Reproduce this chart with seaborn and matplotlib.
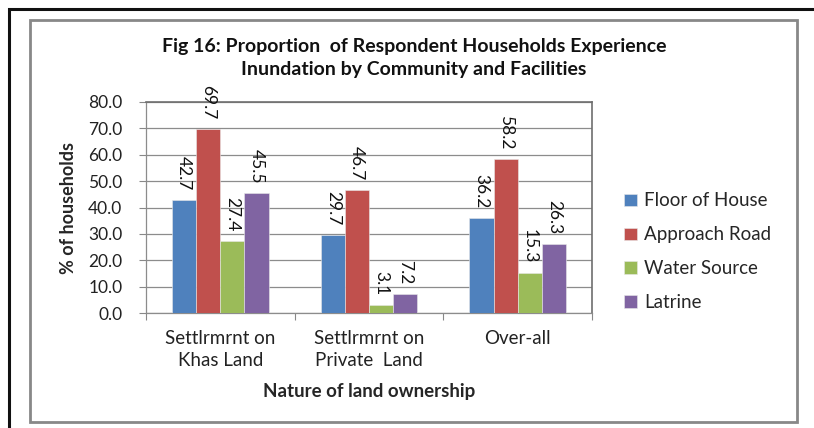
import matplotlib
matplotlib.use("Agg")
import matplotlib.pyplot as plt
from matplotlib.patches import Rectangle
import seaborn as sns
import pandas as pd

# Data
categories = ["Settlrmrnt on\nKhas Land", "Settlrmrnt on\nPrivate  Land", "Over-all"]
facilities = ["Floor of House", "Approach Road", "Water Source", "Latrine"]
floor_of_house = [42.7, 29.7, 36.2]
approach_road = [69.7, 46.7, 58.2]
water_source = [27.4, 3.1, 15.3]
latrine = [45.5, 7.2, 26.3]
yticks = [0, 10, 20, 30, 40, 50, 60, 70, 80]

colors = ["#4F81BD", "#C0504D", "#9BBB59", "#8064A2"]

rows = []
for fac, vals in zip(facilities, [floor_of_house, approach_road, water_source, latrine]):
    for cat, v in zip(categories, vals):
        rows.append({"Category": cat, "Facility": fac, "Value": v})
df = pd.DataFrame(rows)

sns.set_theme(style="white")
plt.rcParams["font.family"] = ["Lato", "DejaVu Sans"]

W, H = 814, 428
fig = plt.figure(figsize=(W / 100, H / 100), dpi=100)
ax = fig.add_axes([146 / W, 1 - 313 / H, (592 - 146) / W, (313 - 102) / H])

sns.barplot(data=df, x="Category", y="Value", hue="Facility", order=categories,
            hue_order=facilities, palette=colors, saturation=1, width=0.65,
            edgecolor="#e8e8e8", linewidth=0.4, errorbar=None, ax=ax, zorder=3)

# Value labels, rotated, sitting above each bar
for cont in ax.containers:
    ax.bar_label(cont, fmt="%.1f", rotation=-90, padding=7, fontsize=12.5,
                 color="#111111")

ax.set_ylim(0, 80)
ax.set_yticks(yticks)
ax.set_yticklabels([f"{t:.1f}" for t in yticks], fontsize=12.5, color="#222222")
ax.set_xlim(-0.5, 2.5)
ax.set_xticks(range(len(categories)))
ax.set_xticklabels(categories, fontsize=13.5, color="#222222", linespacing=1.4)
ax.set_xticks([-0.5, 0.5, 1.5, 2.5], minor=True)
ax.tick_params(axis="x", which="major", length=0, pad=12)
ax.tick_params(axis="x", which="minor", length=5, width=0.8, color="#888888",
               direction="out", bottom=True)
ax.tick_params(axis="y", which="major", length=5, width=0.8, color="#888888",
               direction="out", left=True, pad=12)

ax.yaxis.grid(True, color="#8c8c8c", linewidth=0.9, zorder=0)
ax.set_axisbelow(True)
for side in ["left", "bottom"]:
    ax.spines[side].set_color("#8c8c8c")
    ax.spines[side].set_linewidth(0.9)
for side in ["top", "right"]:
    ax.spines[side].set_color("#6e6e6e")
    ax.spines[side].set_linewidth(1.2)

ax.set_ylabel("% of households", fontsize=13, fontweight="bold", labelpad=8)
ax.set_xlabel("Nature of land ownership", fontsize=13.5, fontweight="bold", labelpad=10)

fig.text(414 / W, 1 - 58 / H,
         "Fig 16: Proportion  of Respondent Households Experience\n"
         "Inundation by Community and Facilities",
         ha="center", va="center", fontsize=14, fontweight="bold",
         linespacing=1.4, color="#111111")

leg = ax.legend(loc="center left", bbox_to_anchor=(1.035, 0.29), frameon=False,
                fontsize=13.5, handlelength=0.65, handleheight=0.65,
                labelspacing=0.9, handletextpad=0.4)

# Chart frames
fig.patches.append(Rectangle((9 / W, -0.1), 1.2, 1 - 9 / H + 0.1,
                             transform=fig.transFigure, fill=False,
                             edgecolor="#111111", linewidth=2.2))
fig.patches.append(Rectangle((30 / W, 1 - 422 / H), (797 - 30) / W, (422 - 20) / H,
                             transform=fig.transFigure, fill=False,
                             edgecolor="#888888", linewidth=2.0))

fig.savefig("out.png", dpi=100, facecolor="white")
